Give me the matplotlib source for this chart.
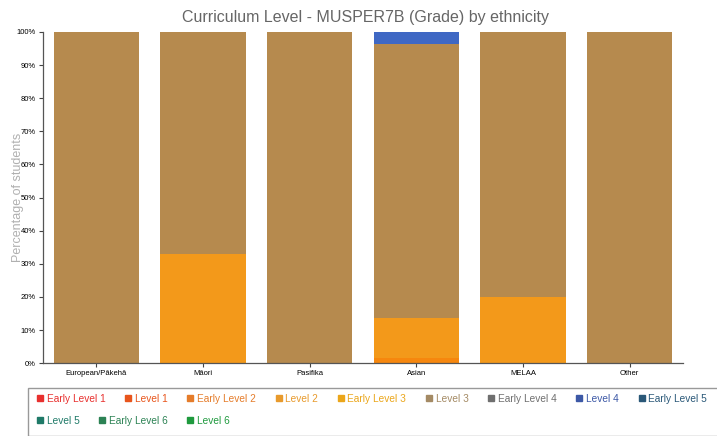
import matplotlib.pyplot as plt
import numpy as np
from matplotlib.lines import Line2D
from matplotlib.patches import Rectangle

# Данные
ethnicities = ['European/Pākehā', 'Māori', 'Pasifika', 'Asian', 'MELAA', 'Other']
levels = ['Early Level 1', 'Level 1', 'Early Level 2', 'Level 2', 'Early Level 3',
          'Level 3', 'Early Level 4', 'Level 4', 'Early Level 5', 'Level 5',
          'Early Level 6', 'Level 6']
# проценты по уровням для каждой этнической группы
early_level_2 = [0, 0, 0, 1.5, 0, 0]
level_2 = [0, 33, 0, 12, 20, 0]
level_3 = [100, 67, 100, 83, 80, 100]
level_4 = [0, 0, 0, 3.5, 0, 0]
values = {
    'Early Level 2': early_level_2,
    'Level 2': level_2,
    'Level 3': level_3,
    'Level 4': level_4,
}
y_ticks = list(range(0, 101, 10))

legend_colors = ['#e8302e', '#e8551c', '#e57c2a', '#e89a2c', '#eba61a', '#a48a64',
                 '#6f6f6f', '#3c58a6', '#2a5878', '#1f7a68', '#2c8254', '#1f9a3e']
bar_colors = {'Early Level 2': '#f6870e', 'Level 2': '#f3991a',
              'Level 3': '#b68a4e', 'Level 4': '#3f68c4'}

fig = plt.figure(figsize=(7.17, 4.36), dpi=100)
ax = fig.add_axes([0.06, 0.167, 0.8926, 0.7597])

x = np.arange(len(ethnicities))
bottom = np.zeros(len(ethnicities))
for lvl in levels:
    if lvl not in values:
        continue
    v = np.array(values[lvl], dtype=float)
    ax.bar(x, v, width=0.8, bottom=bottom, color=bar_colors[lvl], linewidth=0)
    bottom += v

ax.set_xlim(-0.5, len(ethnicities) - 0.5)
ax.set_ylim(0, 100)
ax.set_yticks(y_ticks)
ax.set_yticklabels([f'{t}%' for t in y_ticks], fontsize=5.5, family='Liberation Sans')
ax.set_xticks(x)
ax.set_xticklabels(ethnicities, fontsize=5.5, family='Liberation Sans')
ax.tick_params(length=3, width=0.8, color='#444', pad=2)
for s in ['top', 'right']:
    ax.spines[s].set_visible(False)
for s in ['left', 'bottom']:
    ax.spines[s].set_color('#555')
    ax.spines[s].set_linewidth(0.9)

ax.set_ylabel('Percentage of students', fontsize=9, color='#b0b0b0',
              family='Liberation Sans')
ax.yaxis.set_label_coords(-0.03, 0.5)
fig.text(0.51, 0.96, 'Curriculum Level - MUSPER7B (Grade) by ethnicity',
         ha='center', va='center', fontsize=11.5, color='#666',
         family='Liberation Sans')

# Легенда в рамке
fig.patches.append(Rectangle((28 / 717, 0.0), 1.0, 48 / 436, transform=fig.transFigure,
                             fill=False, edgecolor='#999', linewidth=1.0))
handles = [Line2D([], [], marker='s', linestyle='', markersize=5, color=c)
           for c in legend_colors]
rows = [(0, 9, 1 - 399 / 436), (9, 12, 1 - 421 / 436)]
for a, b, yy in rows:
    leg = fig.legend(handles[a:b], levels[a:b], ncol=b - a, loc='center left',
                     bbox_to_anchor=(37 / 717, yy), frameon=False,
                     prop={'family': 'Liberation Sans', 'size': 7.3},
                     handlelength=0.6, handletextpad=0.35, columnspacing=1.95,
                     borderpad=0, borderaxespad=0)
    for t, c in zip(leg.get_texts(), legend_colors[a:b]):
        t.set_color(c)

fig.savefig('out.png', dpi=100)
